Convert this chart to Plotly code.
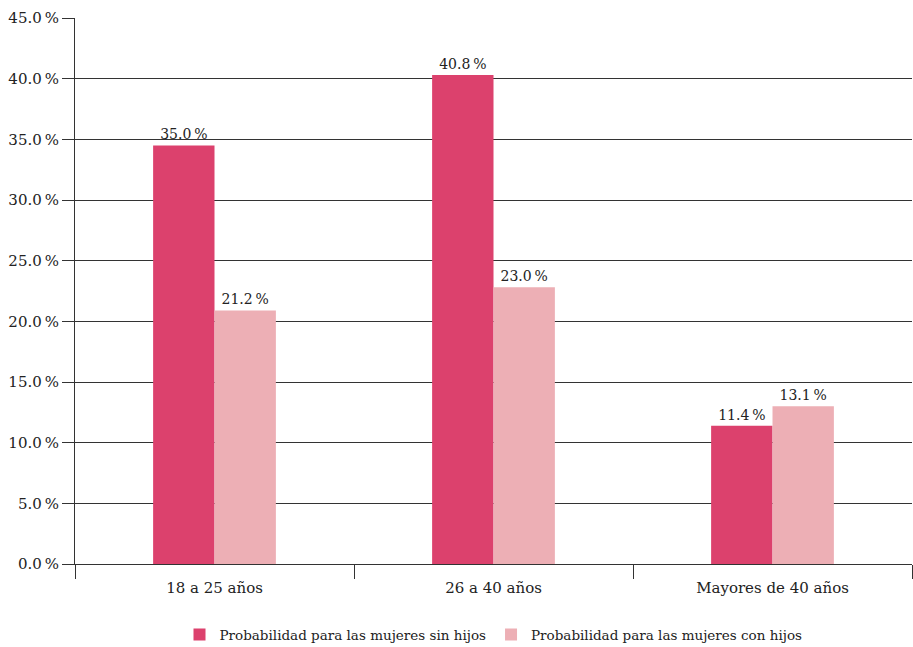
import plotly.graph_objects as go

categories = ["18 a 25 años", "26 a 40 años", "Mayores de 40 años"]
sin_hijos = [34.5, 40.3, 11.4]
con_hijos = [20.9, 22.8, 13.0]
sin_hijos_labels = ["35.0\u2009%", "40.8\u2009%", "11.4\u2009%"]
con_hijos_labels = ["21.2\u2009%", "23.0\u2009%", "13.1\u2009%"]
series_names = ["Probabilidad para las mujeres sin hijos", "Probabilidad para las mujeres con hijos"]
y_ticks = [0, 5, 10, 15, 20, 25, 30, 35, 40, 45]

font_family = "DejaVu Serif"

fig = go.Figure()
fig.add_trace(go.Bar(x=categories, y=sin_hijos, name=series_names[0],
                     marker=dict(color="#DC416D", line=dict(width=0)),
                     text=sin_hijos_labels, textposition="outside",
                     textfont=dict(family=font_family, size=14, color="#222"),
                     cliponaxis=False))
fig.add_trace(go.Bar(x=categories, y=con_hijos, name=series_names[1],
                     marker=dict(color="#EDAFB5", line=dict(width=0)),
                     text=con_hijos_labels, textposition="outside",
                     textfont=dict(family=font_family, size=14, color="#222"),
                     cliponaxis=False))

fig.update_layout(
    width=913, height=647,
    margin=dict(l=75, r=1, t=18, b=83, autoexpand=False),
    paper_bgcolor="white", plot_bgcolor="white",
    barmode="group", bargap=0.56, bargroupgap=0,
    font=dict(family=font_family, size=14, color="#222"),
    showlegend=True,
    legend=dict(orientation="h", x=0.5, xanchor="center", y=-0.101, yanchor="top",
                font=dict(family=font_family, size=13.5, color="#222"),
                itemwidth=30, traceorder="normal"),
)
fig.update_xaxes(
    automargin=False,
    showgrid=False, showline=True, linecolor="#333", linewidth=1,
    ticks="outside", tickson="boundaries", ticklen=14, tickcolor="#333",
    ticklabelstandoff=10,
    tickfont=dict(family=font_family, size=15, color="#222"),
)
fig.update_yaxes(
    automargin=False,
    range=[0, 45], tickvals=y_ticks,
    ticktext=[f"{v:.1f}\u2009%" for v in y_ticks],
    showgrid=True, gridcolor="#333", gridwidth=1,
    zeroline=True, zerolinecolor="#333", zerolinewidth=1,
    showline=True, linecolor="#333", linewidth=1,
    ticks="outside", ticklen=12, tickcolor="#333",
    tickfont=dict(family=font_family, size=15, color="#222"),
)

fig.write_html("out.html")
